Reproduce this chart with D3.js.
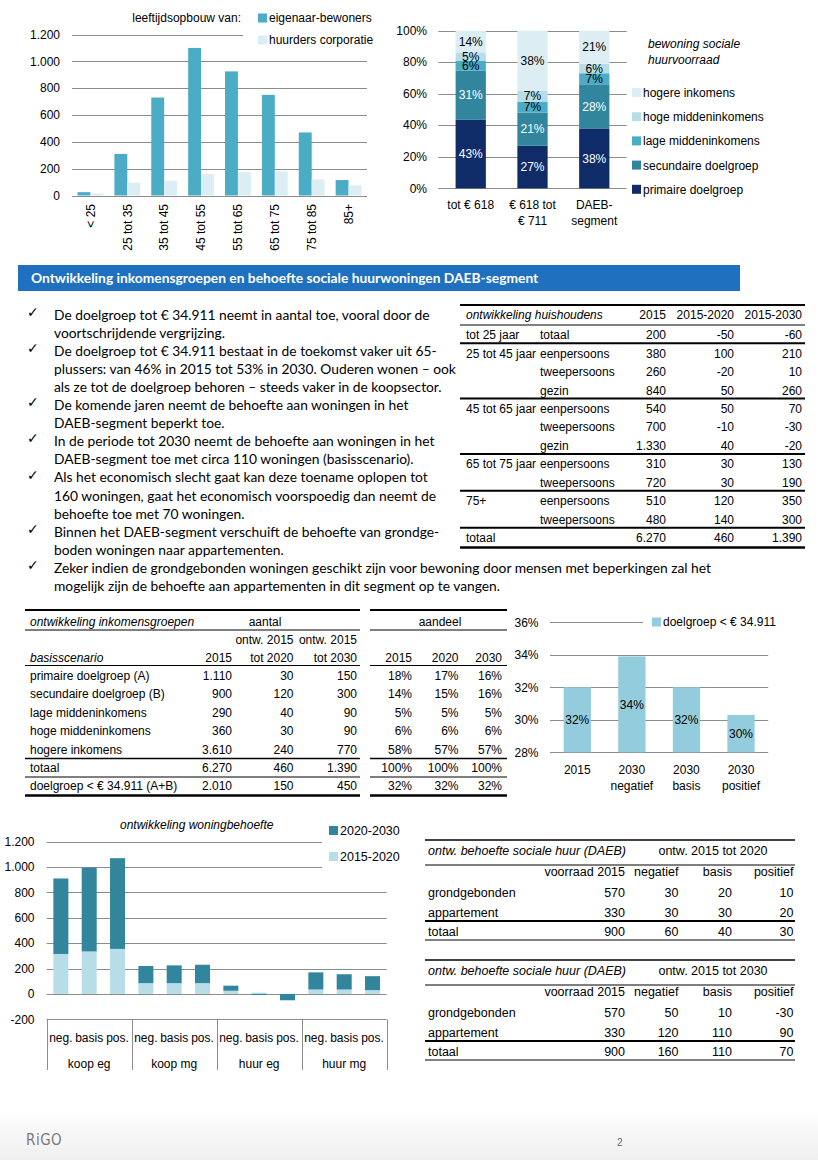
<!DOCTYPE html>
<html><head><meta charset="utf-8">
<script src="https://cdn.jsdelivr.net/npm/d3@7"></script>
<style>
body{margin:0;background:#fff;}
svg{display:block;}
text{font-family:"Liberation Sans",Arial,sans-serif;font-size:12px;fill:#000;}
.cal{font-family:Lato,"Open Sans",sans-serif;}
</style></head><body>
<svg id="page" width="818" height="1160"></svg>
<script>
// ================= DATA =================
// leeftijdsopbouw
const ageCats = ["< 25","25 tot 35","35 tot 45","45 tot 55","55 tot 65","65 tot 75","75 tot 85","85+"];
const ageSeries = ["eigenaar-bewoners","huurders corporatie"];
const ownerVals = [25,310,730,1100,925,750,470,115];
const renterVals = [15,95,110,160,175,180,120,75];
const ageTicks = [0,200,400,600,800,1000,1200];

// bewoning sociale huurvoorraad
const rentCats = ["tot € 618","€ 618 tot € 711","DAEB-segment"];
const rentCatLines = [["tot € 618"],["€ 618 tot","€ 711"],["DAEB-","segment"]];
const incomeSeries = ["primaire doelgroep","secundaire doelgroep","lage middeninkomens","hoge middeninkomens","hogere inkomens"];
const primaire = [43,27,38];
const secundaire = [31,21,28];
const lageMidden = [6,7,7];
const hogeMidden = [5,7,6];
const hogere = [14,38,21];
const pctTicks = [0,0.2,0.4,0.6,0.8,1];

// header + bullets
const headerTitle = "Ontwikkeling inkomensgroepen en behoefte sociale huurwoningen DAEB-segment";
const bulletLines = [
 "De doelgroep tot € 34.911 neemt in aantal toe, vooral door de",
 "voortschrijdende vergrijzing.",
 "De doelgroep tot € 34.911 bestaat in de toekomst vaker uit 65-",
 "plussers: van 46% in 2015 tot 53% in 2030. Ouderen wonen – ook",
 "als ze tot de doelgroep behoren – steeds vaker in de koopsector.",
 "De komende jaren neemt de behoefte aan woningen in het",
 "DAEB-segment beperkt toe.",
 "In de periode tot 2030 neemt de behoefte aan woningen in het",
 "DAEB-segment toe met circa 110 woningen (basisscenario).",
 "Als het economisch slecht gaat kan deze toename oplopen tot",
 "160 woningen, gaat het economisch voorspoedig dan neemt de",
 "behoefte toe met 70 woningen.",
 "Binnen het DAEB-segment verschuift de behoefte van grondge-",
 "boden woningen naar appartementen.",
 "Zeker indien de grondgebonden woningen geschikt zijn voor bewoning door mensen met beperkingen zal het",
 "mogelijk zijn de behoefte aan appartementen in dit segment op te vangen."
];
const bulletStarts = [0,2,5,7,9,12,14];

// ontwikkeling huishoudens
const hhHeader = ["ontwikkeling huishoudens","2015","2015-2020","2015-2030"];
const hhAge = ["tot 25 jaar","25 tot 45 jaar","","","45 tot 65 jaar","","","65 tot 75 jaar","","75+","","totaal"];
const hhType = ["totaal","eenpersoons","tweepersoons","gezin","eenpersoons","tweepersoons","gezin","eenpersoons","tweepersoons","eenpersoons","tweepersoons",""];
const hh2015 = [200,380,260,840,540,700,1330,310,720,510,480,6270];
const hh1520 = [-50,100,-20,50,50,-10,40,30,30,120,140,460];
const hh1530 = [-60,210,10,260,70,-30,-20,130,190,350,300,1390];

// ontwikkeling inkomensgroepen
const incGroups = ["primaire doelgroep (A)","secundaire doelgroep (B)","lage middeninkomens","hoge middeninkomens","hogere inkomens","totaal","doelgroep < € 34.911 (A+B)"];
const inc2015 = [1110,900,290,360,3610,6270,2010];
const incTot2020 = [30,120,40,30,240,460,150];
const incTot2030 = [150,300,90,90,770,1390,450];
const share2015 = [18,14,5,6,58,100,32];
const share2020 = [17,15,5,6,57,100,32];
const share2030 = [16,16,5,6,57,100,32];

// doelgroep aandeel
const dgCats = ["2015","2030 negatief","2030 basis","2030 positief"];
const dgCatLines = [["2015"],["2030","negatief"],["2030","basis"],["2030","positief"]];
const dgVals = [32.0,33.9,32.0,30.3];
const dgTicks = [28,30,32,34,36];
const dgLegend = "doelgroep < € 34.911";

// ontwikkeling woningbehoefte
const needGroups = ["koop eg","koop mg","huur eg","huur mg"];
const scenarios = ["neg.","basis","pos."];
const needSeries = ["2015-2020","2020-2030"];
const need1520 = [315,335,355, 85,85,85, 25,10,0, 35,35,30];
const need2030 = [595,660,715, 135,140,145, 40,-8,-50, 135,120,110];
const needTicks = [-200,0,200,400,600,800,1000,1200];

// DAEB tabellen
const daebTitle = "ontw. behoefte sociale huur (DAEB)";
const daebPeriods = ["ontw. 2015 tot 2020","ontw. 2015 tot 2030"];
const daebCols = ["voorraad 2015","negatief","basis","positief"];
const daebRows = ["grondgebonden","appartement","totaal"];
const daebStock = [570,330,900];
const daeb2020Neg = [30,30,60], daeb2020Basis = [20,30,40], daeb2020Pos = [10,20,30];
const daeb2030Neg = [50,120,160], daeb2030Basis = [10,110,110], daeb2030Pos = [-30,90,70];

// ================= RENDER =================
const nl = d3.formatLocale({decimal:",",thousands:".",grouping:[3],currency:["€ ",""],minus:"-"});
const fmtN = nl.format(",d");
const fmtP = v => nl.format(".0f")(v) + "%";
const GRID = "#8c8c8c";

const svg = d3.select("#page");
svg.append("rect").attr("width",818).attr("height",1160).attr("fill","#fff");
const defs = svg.append("defs");
const lg = defs.append("linearGradient").attr("id","foot").attr("x1",0).attr("y1",0).attr("x2",0).attr("y2",1);
lg.append("stop").attr("offset",0).attr("stop-color","#ffffff");
lg.append("stop").attr("offset",1).attr("stop-color","#efefef");
svg.append("rect").attr("x",0).attr("y",1108).attr("width",818).attr("height",52).attr("fill","url(#foot)");

function txt(g,x,y,s,o={}){
  const t=g.append("text").attr("x",x).attr("y",y).attr("dy","0.35em").text(s);
  if(o.anchor)t.attr("text-anchor",o.anchor);
  if(o.size)t.style("font-size",o.size+"px");
  if(o.italic)t.style("font-style","italic");
  if(o.bold)t.style("font-weight","bold");
  if(o.fill)t.style("fill",o.fill);
  if(o.cls)t.attr("class",o.cls);
  return t;
}
function hline(g,x1,x2,y,w=1,c="#000"){g.append("line").attr("x1",x1).attr("x2",x2).attr("y1",y).attr("y2",y).attr("stroke",c).attr("stroke-width",w);}
function vline(g,x,y1,y2,w=1,c="#000"){g.append("line").attr("x1",x).attr("x2",x).attr("y1",y1).attr("y2",y2).attr("stroke",c).attr("stroke-width",w);}

// ---- Chart 1: leeftijdsopbouw ----
{
  const g=svg.append("g");
  const colors=["#4BACC6","#DBEEF4"];
  const x=d3.scaleBand().domain(ageCats).range([72,367]).paddingInner(0.3).paddingOuter(0.15);
  const xs=d3.scaleBand().domain(ageSeries).range([0,x.bandwidth()]);
  const y=d3.scaleLinear().domain([0,1200]).range([195.5,34.5]);
  ageTicks.forEach(t=>{
    hline(g,72,t===1200?243:367,Math.round(y(t))+0.5,1,GRID);
    txt(g,60,y(t),fmtN(t),{anchor:"end"});
  });
  const vals=[ownerVals,renterVals];
  ageSeries.forEach((s,si)=>{
    g.selectAll(null).data(ageCats).enter().append("rect")
      .attr("x",d=>x(d)+xs(s)).attr("width",xs.bandwidth())
      .attr("y",(d,i)=>y(vals[si][i])).attr("height",(d,i)=>y(0)-y(vals[si][i]))
      .attr("fill",colors[si]);
  });
  ageCats.forEach(c=>{
    txt(g,0,0,c,{anchor:"end"}).attr("transform",`translate(${x(c)+x.bandwidth()/2},204) rotate(-90)`);
  });
  txt(g,241,18,"leeftijdsopbouw  van:",{anchor:"end"});
  ageSeries.forEach((s,i)=>{
    g.append("rect").attr("x",258).attr("y",13.5+i*22).attr("width",9).attr("height",9).attr("fill",colors[i]);
    txt(g,269,18+i*22,s);
  });
}

// ---- Chart 2: bewoning sociale huurvoorraad ----
{
  const g=svg.append("g");
  const colors=["#0F2B68","#31859C","#4BACC6","#B7DEE8","#DCEEF4"];
  const series=[primaire,secundaire,lageMidden,hogeMidden,hogere];
  const rows=rentCats.map((c,i)=>{const r={cat:c};incomeSeries.forEach((k,ki)=>r[k]=series[ki][i]);return r;});
  const stack=d3.stack().keys(incomeSeries).offset(d3.stackOffsetExpand)(rows);
  const x=d3.scaleBand().domain(rentCats).range([438.3,626.7]).paddingInner(0.51).paddingOuter(0.28);
  const y=d3.scaleLinear().domain([0,1]).range([188.3,30.7]);
  pctTicks.forEach(t=>{
    hline(g,438.3,626.7,Math.round(y(t))+0.5,1,GRID);
    txt(g,427,y(t),Math.round(t*100)+"%",{anchor:"end"});
  });
  stack.forEach((layer,li)=>{
    g.selectAll(null).data(layer).enter().append("rect")
      .attr("x",d=>x(d.data.cat)).attr("width",x.bandwidth())
      .attr("y",d=>y(d[1])).attr("height",d=>y(d[0])-y(d[1]))
      .attr("fill",colors[li]);
  });
  stack.forEach((layer,li)=>{
    layer.forEach(d=>{
      txt(g,x(d.data.cat)+x.bandwidth()/2,y((d[0]+d[1])/2),d.data[layer.key]+"%",{anchor:"middle",fill:li<2?"#fff":"#000"});
    });
  });
  rentCats.forEach((c,i)=>{
    rentCatLines[i].forEach((l,li)=>txt(g,x(c)+x.bandwidth()/2,205+li*15.5,l,{anchor:"middle"}));
  });
  txt(g,648,44,"bewoning sociale",{italic:true});
  txt(g,648,60,"huurvoorraad",{italic:true});
  incomeSeries.slice().reverse().forEach((s,i)=>{
    const ci=incomeSeries.length-1-i;
    g.append("rect").attr("x",632).attr("y",88+i*24.2).attr("width",9).attr("height",9).attr("fill",colors[ci]);
    txt(g,643,92.7+i*24.2,s);
  });
}

// ---- Header bar + bullets ----
{
  const g=svg.append("g");
  g.append("rect").attr("x",18).attr("y",265).attr("width",722).attr("height",26).attr("fill","#1F70BE");
  txt(g,31,278,headerTitle,{cls:"cal",bold:true,fill:"#fff",size:13.8});
  bulletLines.forEach((l,i)=>{
    const yy=315+i*18.07;
    txt(g,54,yy,l,{cls:"cal",size:13.8});
    if(bulletStarts.includes(i)) txt(g,27,yy-3,"✓",{size:14,bold:true}).style("font-family","DejaVu Sans");
  });
}

// ---- Table: ontwikkeling huishoudens ----
{
  const g=svg.append("g");
  const X0=460,X1=805, cL1=466,cL2=540, c1=666,c2=734,c3=802;
  hline(g,X0,X1,305,2);
  txt(g,cL1,315,hhHeader[0],{italic:true});
  txt(g,c1,315,hhHeader[1],{anchor:"end"});
  txt(g,c2,315,hhHeader[2],{anchor:"end"});
  txt(g,c3,315,hhHeader[3],{anchor:"end"});
  hline(g,X0,X1,325,1);
  const step=18.45;
  hhAge.forEach((a,i)=>{
    const yy=335+i*step;
    if(a) txt(g,cL1,yy,a);
    if(hhType[i]) txt(g,cL2,yy,hhType[i]);
    txt(g,c1,yy,fmtN(hh2015[i]),{anchor:"end"});
    txt(g,c2,yy,fmtN(hh1520[i]),{anchor:"end"});
    txt(g,c3,yy,fmtN(hh1530[i]),{anchor:"end"});
    const next=hhAge[i+1];
    if(i<hhAge.length-1 && next) hline(g,X0,X1,yy+step/2-1,2);
  });
  hline(g,X0,X1,547.5,2.5);
}

// ---- Table: ontwikkeling inkomensgroepen ----
{
  const g=svg.append("g");
  const segs=[[25,360],[370,507]];
  const cx=[232,293.5,357,412,458.5,502];
  const seg=(y,w)=>segs.forEach(s=>hline(g,s[0],s[1],y,w));
  seg(610,2);
  txt(g,30,621.5,"ontwikkeling inkomensgroepen",{italic:true});
  txt(g,265,621.5,"aantal",{anchor:"middle"});
  txt(g,440,621.5,"aandeel",{anchor:"middle"});
  seg(630,1);
  txt(g,cx[1],640,"ontw. 2015",{anchor:"end"});
  txt(g,cx[2],640,"ontw. 2015",{anchor:"end"});
  txt(g,30,657.5,"basisscenario",{italic:true});
  ["2015","tot 2020","tot 2030","2015","2020","2030"].forEach((h,i)=>txt(g,cx[i],657.5,h,{anchor:"end"}));
  seg(665.5,1);
  const step=18.4;
  incGroups.forEach((r,i)=>{
    const yy=675.7+i*step;
    txt(g,30,yy,r);
    [fmtN(inc2015[i]),fmtN(incTot2020[i]),fmtN(incTot2030[i]),share2015[i]+"%",share2020[i]+"%",share2030[i]+"%"]
      .forEach((v,ci)=>txt(g,cx[ci],yy,v,{anchor:"end"}));
  });
  seg(758.5,1.5);
  seg(777,1);
  seg(795.5,2.5);
}

// ---- Chart: doelgroep aandeel ----
{
  const g=svg.append("g");
  const x=d3.scaleBand().domain(dgCats).range([550,768.3]).paddingInner(0.5).paddingOuter(0.25);
  const y=d3.scaleLinear().domain([28,36]).range([752.3,622.3]);
  dgTicks.forEach(t=>{
    hline(g,550,t===36?643:768.3,Math.round(y(t))+0.5,1,GRID);
    txt(g,538.5,y(t),t+"%",{anchor:"end"});
  });
  g.selectAll(null).data(dgCats).enter().append("rect")
    .attr("x",d=>x(d)).attr("width",x.bandwidth())
    .attr("y",(d,i)=>y(dgVals[i])).attr("height",(d,i)=>y(28)-y(dgVals[i]))
    .attr("fill","#93CDDD");
  dgCats.forEach((c,i)=>{
    txt(g,x(c)+x.bandwidth()/2,(y(28)+y(dgVals[i]))/2,fmtP(dgVals[i]),{anchor:"middle"});
    dgCatLines[i].forEach((l,li)=>txt(g,x(c)+x.bandwidth()/2,770+li*16,l,{anchor:"middle"}));
  });
  g.append("rect").attr("x",652).attr("y",617.5).attr("width",9).attr("height",9).attr("fill","#93CDDD");
  txt(g,663,622,dgLegend);
}

// ---- Chart: ontwikkeling woningbehoefte ----
{
  const g=svg.append("g");
  const colors=["#B7DEE8","#31859C"];
  const rows=needGroups.flatMap((gr,gi)=>scenarios.map((s,si)=>({g:gr,s:s,"2015-2020":need1520[gi*3+si],"2020-2030":need2030[gi*3+si]})));
  const stack=d3.stack().keys(needSeries).offset(d3.stackOffsetDiverging)(rows);
  const x0=d3.scaleBand().domain(needGroups).range([46.7,386.7]);
  const x1=d3.scaleBand().domain(scenarios).range([0,x0.bandwidth()]).paddingInner(0.47).paddingOuter(0.235);
  const y=d3.scaleLinear().domain([-200,1200]).range([1019.3,841.7]);
  needTicks.forEach(t=>{
    hline(g,46.7,t>=1000?322:386.7,Math.round(y(t))+0.5,1,GRID);
    txt(g,34.5,y(t),fmtN(t),{anchor:"end"});
  });
  stack.forEach((layer,li)=>{
    g.selectAll(null).data(layer).enter().append("rect")
      .attr("x",d=>x0(d.data.g)+x1(d.data.s)).attr("width",x1.bandwidth())
      .attr("y",d=>y(Math.max(d[0],d[1]))).attr("height",d=>Math.abs(y(d[0])-y(d[1])))
      .attr("fill",colors[li]);
  });
  const yb=Math.round(y(-200))+0.5;
  x0.domain().concat([null]).forEach((gr,i)=>{
    const xx=gr===null?386.7:x0(gr);
    vline(g,Math.round(xx)+0.5,yb,1070,1,GRID);
  });
  needGroups.forEach(gr=>{
    scenarios.forEach(s=>txt(g,x0(gr)+x1(s)+x1.bandwidth()/2,1037.7,s,{anchor:"middle"}));
    txt(g,x0(gr)+x0.bandwidth()/2,1063.3,gr,{anchor:"middle"});
  });
  txt(g,196.7,825,"ontwikkeling woningbehoefte",{anchor:"middle",italic:true});
  needSeries.slice().reverse().forEach((s,i)=>{
    const ci=needSeries.length-1-i;
    g.append("rect").attr("x",329).attr("y",826+i*26).attr("width",9).attr("height",9).attr("fill",colors[ci]);
    txt(g,340,830.7+i*26,s,{size:12.5});
  });
}

// ---- DAEB tables ----
{
  const g=svg.append("g");
  const cL=428, cx=[625,678.5,732,793.5];
  const sets=[[daeb2020Neg,daeb2020Basis,daeb2020Pos],[daeb2030Neg,daeb2030Basis,daeb2030Pos]];
  sets.forEach((set,ti)=>{
    const o=ti*120;
    hline(g,425,795,840+o,1.5);
    txt(g,cL,851+o,daebTitle,{italic:true,size:12.5});
    txt(g,713,851+o,daebPeriods[ti],{anchor:"middle",size:12.5});
    hline(g,425,795,865+o,1);
    daebCols.forEach((c,i)=>txt(g,cx[i],871.7+o,c,{anchor:"end",size:12.5}));
    daebRows.forEach((r,ri)=>{
      const yy=(ri<2?892.3+ri*20:931.7)+o;
      txt(g,cL,yy,r,{size:12.5});
      txt(g,cx[0],yy,fmtN(daebStock[ri]),{anchor:"end",size:12.5});
      set.forEach((arr,ci)=>txt(g,cx[ci+1],yy,fmtN(arr[ri]),{anchor:"end",size:12.5}));
    });
    hline(g,425,795,921+o,2);
    hline(g,425,795,940+o,1);
  });
}

// ---- Footer ----
{
  const g=svg.append("g");
  txt(g,26,1140,"RiGO",{size:15,fill:"#7a7a7a"}).style("font-family","DejaVu Sans Condensed, DejaVu Sans").style("letter-spacing","0.5px");
  txt(g,617,1142,"2",{size:10,fill:"#666"});
}
</script></body></html>
